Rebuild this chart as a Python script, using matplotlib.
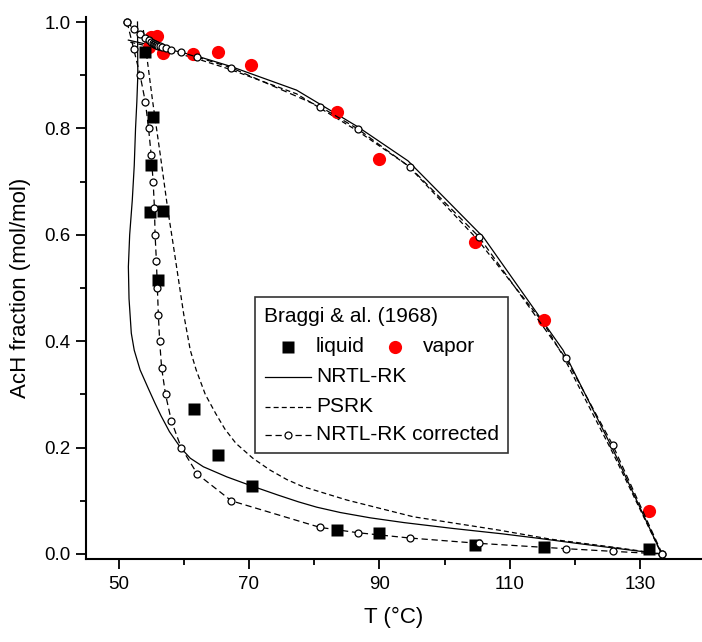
import matplotlib.pyplot as plt
from matplotlib.lines import Line2D
from matplotlib.patches import Rectangle
from matplotlib.ticker import MultipleLocator

plt.rcParams['font.family'] = ['Liberation Sans', 'DejaVu Sans']

# Braggi & al. (1968) experimental data
liq_T = [54.1, 55.3, 54.9, 54.8, 56.8, 56.1, 61.5, 65.2, 70.4, 83.5, 89.9, 104.7, 115.2, 131.3]
liq_x = [0.944, 0.821, 0.731, 0.643, 0.645, 0.515, 0.273, 0.187, 0.128, 0.045, 0.039, 0.017, 0.013, 0.009]
vap_T = [54.6, 55.0, 55.9, 56.8, 61.4, 65.3, 70.3, 83.5, 90.0, 104.7, 115.3, 131.3]
vap_y = [0.953, 0.972, 0.974, 0.941, 0.940, 0.944, 0.920, 0.830, 0.742, 0.587, 0.439, 0.081]

# NRTL-RK model
nrtl_liq_T = [133.3, 126.8, 120.3, 114.1, 108.8, 101.3, 93.8, 88.6, 84.0, 80.4, 77.6, 74.4, 70.4, 66.6,
              63.0, 61.0, 59.5, 57.8, 56.5, 55.6, 54.6, 53.3, 52.4, 51.95, 51.6, 51.5, 51.7, 52.1,
              52.4, 52.6, 52.8, 52.95, 52.9]
nrtl_liq_x = [0.0, 0.010, 0.020, 0.030, 0.038, 0.048, 0.059, 0.068, 0.078, 0.088, 0.098, 0.111, 0.128, 0.145,
              0.164, 0.180, 0.200, 0.230, 0.260, 0.283, 0.310, 0.346, 0.383, 0.415, 0.480, 0.540, 0.600, 0.665,
              0.730, 0.800, 0.850, 0.900, 1.000]
nrtl_vap_T = [51.5, 56.9, 62.0, 67.1, 77.3, 86.7, 94.4, 106.0, 118.2, 125.9, 133.3]
nrtl_vap_y = [0.966, 0.951, 0.936, 0.917, 0.872, 0.803, 0.739, 0.595, 0.383, 0.195, 0.0]

# PSRK model
psrk_liq_T = [133.3, 125.8, 116.2, 108.3, 95.2, 85.0, 78.2, 75.8, 73.2, 70.6, 68.0, 66.3, 64.9, 63.3,
              61.9, 61.0, 60.0, 59.2, 58.4, 57.6, 56.4, 55.2, 53.8]
psrk_liq_x = [0.0, 0.013, 0.028, 0.045, 0.070, 0.1015, 0.127, 0.140, 0.158, 0.180, 0.208, 0.235, 0.264, 0.300,
              0.346, 0.383, 0.450, 0.515, 0.580, 0.643, 0.750, 0.853, 0.985]
psrk_vap_T = [51.8, 57.0, 62.0, 67.1, 77.3, 86.7, 94.4, 105.0, 115.3, 118.2, 125.9, 133.3]
psrk_vap_y = [0.962, 0.948, 0.931, 0.911, 0.865, 0.795, 0.730, 0.592, 0.432, 0.372, 0.188, 0.0]

# NRTL-RK corrected model
corr_T = [51.3, 52.3, 53.3, 54.1, 54.6, 55.0, 55.3, 55.5, 55.6, 55.8, 55.95, 56.1, 56.3, 56.6, 57.2,
          58.1, 59.6, 62.1, 67.3, 80.9, 86.7, 94.7, 105.3, 118.6, 125.8, 133.4]
corr_x = [1.0, 0.95, 0.90, 0.85, 0.80, 0.75, 0.70, 0.65, 0.60, 0.55, 0.50, 0.45, 0.40, 0.35, 0.30,
          0.25, 0.20, 0.15, 0.10, 0.05, 0.04, 0.03, 0.02, 0.01, 0.005, 0.0]
corr_y = [1.0, 0.987, 0.977, 0.970, 0.966, 0.963, 0.961, 0.959, 0.958, 0.957, 0.956, 0.955, 0.954, 0.953, 0.951,
          0.947, 0.943, 0.934, 0.914, 0.841, 0.799, 0.727, 0.596, 0.368, 0.205, 0.0]

W, H = 702, 642
fig = plt.figure(figsize=(W / 100, H / 100), dpi=100)
ax = fig.add_axes([86 / W, 83 / H, 616 / W, 542.3 / H])

lw = 0.9
# model curves
ax.plot(nrtl_liq_T, nrtl_liq_x, color='black', lw=lw, zorder=2)
ax.plot(nrtl_vap_T, nrtl_vap_y, color='black', lw=lw, zorder=2)
ax.plot(psrk_liq_T, psrk_liq_x, color='black', lw=lw, dashes=(4, 2.5), zorder=2)
ax.plot(psrk_vap_T, psrk_vap_y, color='black', lw=lw, dashes=(4, 2.5), zorder=2)

# experimental points
ax.plot(vap_T, vap_y, 'o', color='red', ms=9.5, mec='none', zorder=3)
ax.plot(liq_T, liq_x, 's', color='black', ms=8.5, mec='none', zorder=4)

# corrected model with open circles
for xs, ys in [(corr_T, corr_x), (corr_T, corr_y)]:
    ax.plot(xs, ys, color='black', lw=lw, dashes=(5, 3), marker='o', ms=5,
            mfc='white', mec='black', mew=0.9, zorder=5)

ax.set_xlim(45, 139.5)
ax.set_ylim(-0.0094, 1.010)
ax.xaxis.set_minor_locator(MultipleLocator(10))
ax.set_xticks([50, 70, 90, 110, 130])
ax.yaxis.set_major_locator(MultipleLocator(0.2))
ax.yaxis.set_minor_locator(MultipleLocator(0.1))
ax.set_yticks([0.0, 0.2, 0.4, 0.6, 0.8, 1.0])
ax.set_yticklabels(['0.0', '0.2', '0.4', '0.6', '0.8', '1.0'])

for s in ['top', 'right']:
    ax.spines[s].set_visible(False)
for s in ['left', 'bottom']:
    ax.spines[s].set_linewidth(1.5)

ax.tick_params(which='major', direction='out', length=7.5, width=1.3, labelsize=13.5, pad=3.5)
ax.tick_params(which='minor', direction='out', length=4, width=1.3)
ax.tick_params(axis='x', which='major', pad=5)

ax.set_xlabel('T (°C)', fontsize=16, labelpad=10)
ax.set_ylabel('AcH fraction (mol/mol)', fontsize=16, labelpad=10)


# legend drawn in figure pixel coordinates
def fx(px):
    return px / W


def fy(py):
    return 1 - py / H


box = Rectangle((fx(255), fy(452.7)), fx(508.3) - fx(255), fy(296.7) - fy(452.7),
                transform=fig.transFigure, facecolor='white', edgecolor='#333333', lw=1.2, zorder=10)
fig.add_artist(box)

fs = 15
fig.text(fx(264), fy(316.7), 'Braggi & al. (1968)', fontsize=fs, va='center', ha='left', zorder=11)
fig.add_artist(Line2D([fx(287.7)], [fy(346.7)], marker='s', color='black', ms=8.5, mec='none',
                      transform=fig.transFigure, zorder=11))
fig.text(fx(316), fy(346.7), 'liquid', fontsize=fs, va='center', ha='left', zorder=11)
fig.add_artist(Line2D([fx(395)], [fy(346.7)], marker='o', color='red', ms=9.5, mec='none',
                      transform=fig.transFigure, zorder=11))
fig.text(fx(423), fy(346.7), 'vapor', fontsize=fs, va='center', ha='left', zorder=11)

fig.add_artist(Line2D([fx(265), fx(311)], [fy(376.7), fy(376.7)], color='black', lw=lw,
                      transform=fig.transFigure, zorder=11))
fig.text(fx(316), fy(376.7), 'NRTL-RK', fontsize=fs, va='center', ha='left', zorder=11)
fig.add_artist(Line2D([fx(265), fx(311)], [fy(406.7), fy(406.7)], color='black', lw=lw, dashes=(4, 2.5),
                      transform=fig.transFigure, zorder=11))
fig.text(fx(316), fy(406.7), 'PSRK', fontsize=fs, va='center', ha='left', zorder=11)
fig.add_artist(Line2D([fx(265), fx(311)], [fy(435), fy(435)], color='black', lw=lw, dashes=(5, 3),
                      transform=fig.transFigure, zorder=11))
fig.add_artist(Line2D([fx(288.3)], [fy(435)], marker='o', ms=5, mfc='white', mec='black', mew=0.9,
                      transform=fig.transFigure, zorder=12))
fig.text(fx(316), fy(435), 'NRTL-RK corrected', fontsize=fs, va='center', ha='left', zorder=11)

fig.savefig('out.png', dpi=100)
